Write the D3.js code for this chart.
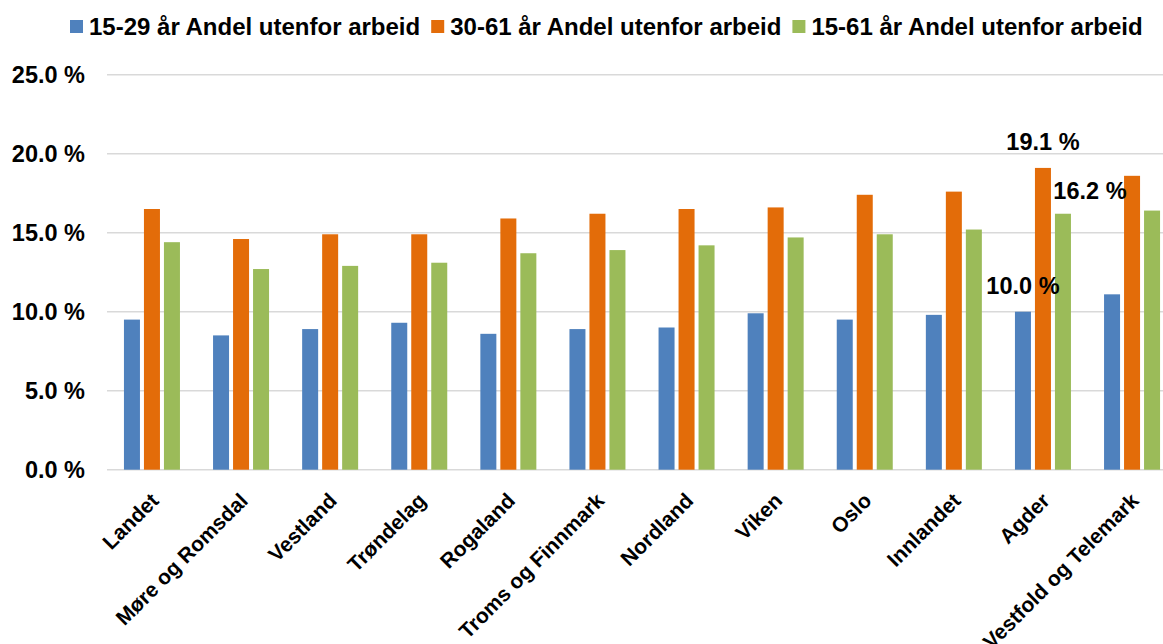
<!DOCTYPE html>
<html>
<head>
<meta charset="utf-8">
<script src="https://cdn.jsdelivr.net/npm/d3@7"></script>
<style>
  body { margin: 0; background: #fff; }
  svg { display: block; font-family: "Liberation Sans", Arial, sans-serif; font-weight: bold; }
</style>
</head>
<body>
<svg id="chart" width="1163" height="644"></svg>
<script>
// regions along the x axis
var regions = ["Landet", "Møre og Romsdal", "Vestland", "Trøndelag", "Rogaland",
  "Troms og Finnmark", "Nordland", "Viken", "Oslo", "Innlandet", "Agder", "Vestfold og Telemark"];

var seriesNames = ["15-29 år Andel utenfor arbeid", "30-61 år Andel utenfor arbeid", "15-61 år Andel utenfor arbeid"];
var seriesColors = ["#4f81bd", "#e36c09", "#9bbb59"];

// share outside work, percent
var age15to29 = [9.5, 8.5, 8.9, 9.3, 8.6, 8.9, 9.0, 9.9, 9.5, 9.8, 10.0, 11.1];
var age30to61 = [16.5, 14.6, 14.9, 14.9, 15.9, 16.2, 16.5, 16.6, 17.4, 17.6, 19.1, 18.6];
var age15to61 = [14.4, 12.7, 12.9, 13.1, 13.7, 13.9, 14.2, 14.7, 14.9, 15.2, 16.2, 16.4];

var yTicks = [0, 5, 10, 15, 20, 25];

// only Agder has data labels in the original
var labelledPoints = [
  {region: "Agder", series: 0},
  {region: "Agder", series: 1},
  {region: "Agder", series: 2}
];

var svg = d3.select("#chart");
var width = 1163;

var y = d3.scaleLinear().domain([0, 25]).range([469.7, 74.7]);

var x0 = d3.scaleBand()
    .domain(regions)
    .range([107.4, 107.4 + 12 * 89.1])
    .paddingInner(1 - 56 / 89.1)
    .paddingOuter((1 - 56 / 89.1) / 2);

var x1 = d3.scaleBand()
    .domain([0, 1, 2])
    .range([0, x0.bandwidth()])
    .paddingInner(0.2);

var allSeries = [age15to29, age30to61, age15to61];

// gridlines
svg.append("g")
    .selectAll("line")
    .data(yTicks)
    .enter().append("line")
    .attr("x1", 107)
    .attr("x2", width)
    .attr("y1", function(d) { return y(d); })
    .attr("y2", function(d) { return y(d); })
    .style("stroke", "#d9d9d9")
    .style("stroke-width", 1.6);

// y axis labels
var yAxis = d3.axisLeft(y)
    .tickValues(yTicks)
    .tickSize(0)
    .tickPadding(0)
    .tickFormat(function(d) { return d3.format(".1f")(d) + " %"; });

var yg = svg.append("g")
    .attr("transform", "translate(85,0)")
    .call(yAxis);
yg.select(".domain").remove();
yg.selectAll("text")
    .style("font-size", "23.5px")
    .style("font-family", "'Liberation Sans', Arial, sans-serif")
    .style("font-weight", "bold")
    .attr("fill", "#000")
    .attr("dy", "0.35em");

// bars
var groups = svg.append("g")
    .selectAll("g")
    .data(regions)
    .enter().append("g")
    .attr("transform", function(d) { return "translate(" + x0(d) + ",0)"; });

groups.selectAll("rect")
    .data(function(d, i) { return allSeries.map(function(s, k) { return {k: k, v: s[i]}; }); })
    .enter().append("rect")
    .attr("x", function(d) { return x1(d.k); })
    .attr("width", x1.bandwidth())
    .attr("y", function(d) { return y(d.v); })
    .attr("height", function(d) { return y(0) - y(d.v); })
    .style("fill", function(d) { return seriesColors[d.k]; });

// x labels, rotated
svg.append("g")
    .selectAll("text")
    .data(regions)
    .enter().append("text")
    .attr("transform", function(d) {
        var cx = x0(d) + x0.bandwidth() / 2;
        return "translate(" + (cx + 8) + ",502) rotate(-45)";
    })
    .style("text-anchor", "end")
    .style("font-size", "21px")
    .text(function(d) { return d; });

// data labels (moved by hand in the original), offsets per series
var labelShift = [{dx: 0, dy: -18}, {dx: 0, dy: -18}, {dx: 27, dy: -15}];
svg.append("g")
    .selectAll("text")
    .data(labelledPoints)
    .enter().append("text")
    .attr("x", function(d) {
        return x0(d.region) + x1(d.series) + x1.bandwidth() / 2 + labelShift[d.series].dx;
    })
    .attr("y", function(d) {
        var i = regions.indexOf(d.region);
        return y(allSeries[d.series][i]) + labelShift[d.series].dy;
    })
    .style("text-anchor", "middle")
    .style("font-size", "23.5px")
    .text(function(d) {
        var i = regions.indexOf(d.region);
        return d3.format(".1f")(allSeries[d.series][i]) + " %";
    });

// legend
var legend = svg.append("g").attr("transform", "translate(70,0)");
var lx = 0;
seriesNames.forEach(function(name, k) {
    legend.append("rect")
        .attr("x", lx)
        .attr("y", 20)
        .attr("width", 13)
        .attr("height", 13)
        .style("fill", seriesColors[k]);
    var t = legend.append("text")
        .attr("x", lx + 19)
        .attr("y", 35)
        .style("font-size", "24px")
        .text(name);
    lx += 19 + t.node().getComputedTextLength() + 11;
});
</script>
</body>
</html>
